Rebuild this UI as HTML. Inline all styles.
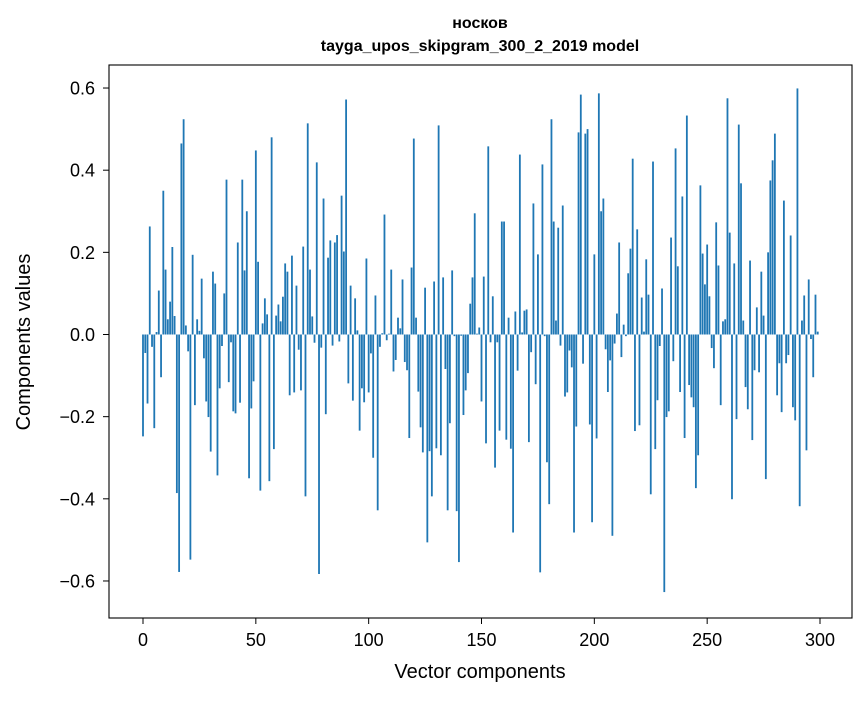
<!DOCTYPE html>
<html><head><meta charset="utf-8"><style>
html,body{margin:0;padding:0;background:#fff;}
svg text{font-family:"Liberation Sans","DejaVu Sans",sans-serif;fill:#000;}
</style></head><body>
<svg id="chart" width="867" height="696" xmlns="http://www.w3.org/2000/svg">
<rect x="0" y="0" width="867" height="696" fill="#fff"/>
<text x="480" y="28" text-anchor="middle" font-size="16" font-weight="bold">носков</text>
<text x="480" y="51" text-anchor="middle" font-size="16" font-weight="bold">tayga_upos_skipgram_300_2_2019 model</text>
<g id="bars"></g>
<rect x="109" y="65" width="743" height="553" fill="none" stroke="#000" stroke-width="1.1"/>
<g id="xticks"></g>
<g id="yticks"></g>
<text x="480" y="678" text-anchor="middle" font-size="20">Vector components</text>
<text transform="translate(30,342) rotate(-90)" text-anchor="middle" font-size="20">Components values</text>
</svg>
<script>
const values = [-0.248,-0.045,-0.168,0.263,-0.03,-0.228,0.006,0.107,-0.104,0.35,0.158,0.037,0.08,0.213,0.045,-0.386,-0.578,0.465,0.524,0.022,-0.041,-0.548,0.194,-0.172,0.037,0.009,0.136,-0.058,-0.163,-0.201,
-0.285,0.153,0.124,-0.343,-0.131,-0.028,0.1,0.377,-0.116,-0.019,-0.187,-0.192,0.224,-0.166,0.377,0.156,0.3,-0.35,-0.18,-0.114,
0.448,0.177,-0.38,0.027,0.088,0.049,-0.357,0.48,-0.279,0.046,0.073,0.032,0.092,0.173,0.153,-0.148,0.192,-0.141,0.119,-0.037,
-0.136,0.214,-0.394,0.514,0.158,0.044,-0.02,0.419,-0.583,-0.032,0.331,-0.194,0.187,0.229,-0.027,0.224,0.242,-0.017,0.338,0.202,
0.572,-0.119,0.119,-0.161,0.088,0.01,-0.234,-0.131,-0.165,0.185,-0.141,-0.046,-0.3,0.095,-0.428,-0.03,0.003,0.292,-0.014,0.002,
0.158,-0.09,-0.062,0.041,0.015,0.134,-0.067,-0.087,-0.252,0.163,0.477,0.041,-0.139,-0.226,-0.287,0.114,-0.506,-0.284,-0.394,0.129,
-0.277,0.509,-0.294,0.139,-0.084,-0.428,-0.216,0.156,-0.004,-0.43,-0.554,-0.003,-0.196,-0.136,-0.094,0.075,0.139,0.295,0.002,0.017,
-0.163,0.141,-0.265,0.458,-0.019,0.093,-0.324,-0.019,-0.234,0.275,0.275,-0.256,0.041,-0.278,-0.482,0.056,-0.088,0.438,0.005,0.058,
0.061,-0.262,-0.043,0.319,-0.121,0.195,-0.579,0.414,-0.004,-0.311,-0.413,0.524,0.275,0.034,0.26,-0.027,0.314,-0.151,-0.141,-0.039,
-0.08,-0.482,-0.224,0.492,0.584,-0.071,0.489,0.5,-0.219,-0.457,0.195,-0.253,0.587,0.3,0.331,-0.036,-0.14,-0.063,-0.49,-0.022,
0.051,0.224,-0.055,0.024,-0.004,0.149,0.209,0.428,-0.235,0.256,-0.221,0.09,0.007,0.183,0.097,-0.389,0.421,-0.279,-0.16,-0.028,
0.112,-0.627,-0.201,-0.187,0.236,-0.065,0.453,0.166,-0.14,0.336,-0.252,0.533,-0.123,-0.153,-0.177,-0.374,-0.294,0.363,0.197,0.122,
0.219,0.093,-0.033,-0.082,0.273,0.168,-0.172,0.032,0.037,0.575,0.248,-0.401,0.173,-0.206,0.511,0.368,0.034,-0.128,-0.182,0.18,
-0.257,-0.087,0.066,-0.092,0.153,0.046,-0.352,0.2,0.375,0.424,0.489,-0.148,-0.07,-0.189,0.326,-0.07,-0.05,0.241,-0.177,-0.209,
0.599,-0.418,0.034,0.095,-0.282,0.134,-0.011,-0.104,0.097,0.007];
const xTicks = [0,50,100,150,200,250,300];
const yTicks = [-0.6,-0.4,-0.2,0.0,0.2,0.4,0.6];
const yTickLabels = ["\u22120.6","\u22120.4","\u22120.2","0.0","0.2","0.4","0.6"];

const NS="http://www.w3.org/2000/svg";
function xs(v){return 143+(v)*(677/300);}
function ys(v){return 334.5-v*410.8;}
const bars=document.getElementById('bars');
const bw=0.8*(677/300);
values.forEach((v,i)=>{
  const r=document.createElementNS(NS,'rect');
  
  
  const y0=ys(0),y1=ys(v);
  r.setAttribute('x',xs(i)-bw/2);
  r.setAttribute('width',bw);
  r.setAttribute('y',Math.min(y0,y1));
  r.setAttribute('height',Math.abs(y1-y0));
  r.setAttribute('fill','#1f77b4');
  bars.appendChild(r);
});
const xg=document.getElementById('xticks');
xTicks.forEach(t=>{
  const l=document.createElementNS(NS,'line');
  
  
  l.setAttribute('x1',xs(t));l.setAttribute('x2',xs(t));
  l.setAttribute('y1',618);l.setAttribute('y2',624);
  l.setAttribute('stroke','#000');
  xg.appendChild(l);
  const tx=document.createElementNS(NS,'text');
  
  
  tx.setAttribute('x',xs(t));tx.setAttribute('y',646);
  tx.setAttribute('text-anchor','middle');tx.setAttribute('font-size','18');
  tx.textContent=String(t);
  xg.appendChild(tx);
});
const yg=document.getElementById('yticks');
yTicks.forEach((t,k)=>{
  const l=document.createElementNS(NS,'line');
  
  
  l.setAttribute('x1',103);l.setAttribute('x2',109);
  l.setAttribute('y1',ys(t));l.setAttribute('y2',ys(t));
  l.setAttribute('stroke','#000');
  yg.appendChild(l);
  const tx=document.createElementNS(NS,'text');
  
  
  tx.setAttribute('x',95);tx.setAttribute('y',ys(t)+6.5);
  tx.setAttribute('text-anchor','end');tx.setAttribute('font-size','18');
  tx.textContent=yTickLabels[k];
  yg.appendChild(tx);
});
</script>
</body></html>
